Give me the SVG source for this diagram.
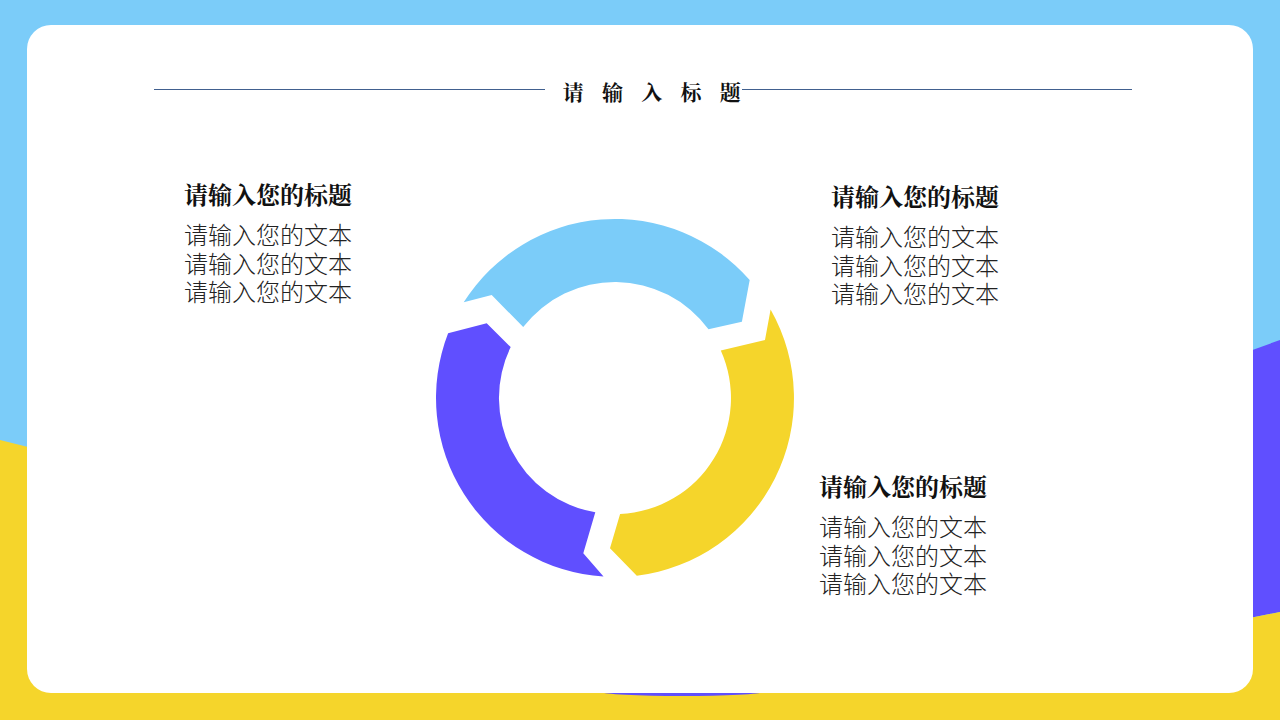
<svg xmlns="http://www.w3.org/2000/svg" width="1280" height="720" viewBox="0 0 1280 720">
<style>
.h{font-family:"Noto Serif CJK SC","Noto Sans CJK SC",serif;font-weight:bold;font-size:24px;fill:#111}
.b{font-family:"Noto Sans CJK SC",sans-serif;font-weight:300;font-size:24px;fill:#222}
.t{font-family:"Noto Serif CJK SC","Noto Sans CJK SC",serif;font-weight:bold;font-size:21px;fill:#111}
.rule{stroke:#41608f;stroke-width:1}
</style>
<g id="background">
<rect x="0" y="0" width="1280" height="720" fill="#7bccf9"/>
<polygon points="1180,376 1280,340 1280,612 1180,632" fill="#604fff"/>
<polygon points="0,440 60,455 640,650 1180,632 1280,612 1280,720 0,720" fill="#f5d52b"/>
<ellipse cx="682" cy="692" rx="80" ry="4" fill="#604fff"/>
<rect x="27" y="25" width="1226" height="668" rx="24" ry="24" fill="#ffffff"/>
</g>
<g id="title">
<line class="rule" x1="154" y1="89.5" x2="545" y2="89.5"/>
<line class="rule" x1="742" y1="89.5" x2="1132" y2="89.5"/>
<text class="t" x="655" y="100" text-anchor="middle" letter-spacing="6.5">请 输 入 标 题</text>
</g>
<g id="ring">
<g id="seg-blue"><path d="M463.7,302.3 A179,179 0 0 1 749.7,280.1 L741.9,321.8 L708.5,329.3 A116,116 0 0 0 523.2,327.1 L491.7,295 Z" fill="#7bccf9"/></g>
<g id="seg-yellow"><path d="M770.6,309.6 A179,179 0 0 1 636.8,575.7 L610,548.3 L620.1,513.9 A116,116 0 0 0 720.8,350.5 L765,340 Z" fill="#f5d52b"/></g>
<g id="seg-purple"><path d="M603.5,576.6 A179,179 0 0 1 448.1,333.3 L486.7,323.3 L510.7,347.1 A116,116 0 0 0 595.3,512.3 L583.3,553.3 Z" fill="#604fff"/></g>
</g>
<g id="block-left">
<text class="h" x="184" y="204">请输入您的标题</text>
<text class="b" x="184" y="244">请输入您的文本</text>
<text class="b" x="184" y="272.5">请输入您的文本</text>
<text class="b" x="184" y="301">请输入您的文本</text>
</g>
<g id="block-right-top">
<text class="h" x="831" y="206">请输入您的标题</text>
<text class="b" x="831" y="246">请输入您的文本</text>
<text class="b" x="831" y="274.5">请输入您的文本</text>
<text class="b" x="831" y="303">请输入您的文本</text>
</g>
<g id="block-right-bottom">
<text class="h" x="819" y="496">请输入您的标题</text>
<text class="b" x="819" y="536">请输入您的文本</text>
<text class="b" x="819" y="564.5">请输入您的文本</text>
<text class="b" x="819" y="593">请输入您的文本</text>
</g>
<g id="connectors"></g>
</svg>
